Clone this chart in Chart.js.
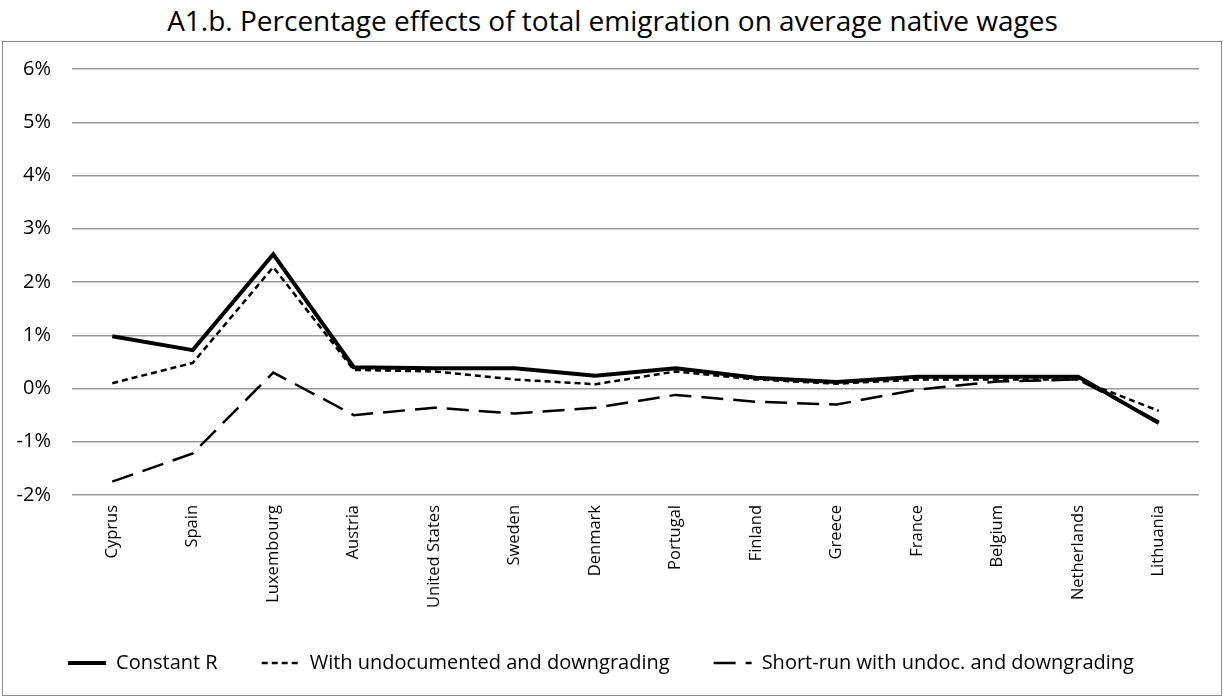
<!DOCTYPE html>
<html>
<head>
<meta charset="utf-8">
<script src="https://cdn.jsdelivr.net/npm/chart.js@4/dist/chart.umd.min.js"></script>
<style>
  html, body { margin: 0; padding: 0; background: #fff; }
  #title {
    position: absolute; left: 0; top: 1px; width: 1225px; text-align: center;
    font-family: "Open Sans", sans-serif; font-size: 28px; color: #000;
  }
  #box {
    position: absolute; left: 2px; top: 41px; width: 1218px; height: 653px;
    border: 1px solid #8a8a8a;
  }
  #wrap { position: absolute; left: 3px; top: 36px; width: 1218px; height: 659px; }
</style>
</head>
<body>
<div id="title">A1.b. Percentage effects of total emigration on average native wages</div>
<div id="box"></div>
<div id="wrap"><canvas id="chart"></canvas></div>
<script>
// Countries on the x axis
const countries = ['Cyprus', 'Spain', 'Luxembourg', 'Austria', 'United States', 'Sweden', 'Denmark',
  'Portugal', 'Finland', 'Greece', 'France', 'Belgium', 'Netherlands', 'Lithuania'];

// Effects in percent
const constantR = [0.98, 0.72, 2.52, 0.40, 0.38, 0.38, 0.24, 0.38, 0.20, 0.12, 0.22, 0.22, 0.22, -0.65];
const withUndoc = [0.10, 0.48, 2.28, 0.35, 0.32, 0.17, 0.08, 0.32, 0.17, 0.09, 0.17, 0.17, 0.17, -0.42];
const shortRun = [-1.75, -1.22, 0.30, -0.50, -0.36, -0.47, -0.36, -0.12, -0.25, -0.30, -0.02, 0.13, 0.17, -0.62];

// Y axis ticks
const yMin = -2;
const yMax = 6;
const yStep = 1;

const ctx = document.getElementById('chart');
new Chart(ctx.getContext('2d'), {
  type: 'line',
  data: {
    labels: countries,
    datasets: [
      {
        label: 'Constant R',
        data: constantR,
        borderColor: '#000',
        borderWidth: 4,
        pointRadius: 0,
        tension: 0
      },
      {
        label: 'With undocumented and downgrading',
        data: withUndoc,
        borderColor: '#000',
        borderWidth: 2.5,
        borderDash: [6, 4],
        pointRadius: 0,
        tension: 0
      },
      {
        label: 'Short-run with undoc. and downgrading',
        data: shortRun,
        borderColor: '#000',
        borderWidth: 2.5,
        borderDash: [22, 10],
        pointRadius: 0,
        tension: 0
      }
    ]
  },
  options: {
    responsive: true,
    maintainAspectRatio: false,
    animation: false,
    layout: { padding: { top: 24, right: 22, left: 0, bottom: 12 } },
    plugins: {
      title: { display: false },
      tooltip: { enabled: false },
      legend: {
        position: 'bottom',
        labels: {
          usePointStyle: true,
          pointStyle: 'line',
          pointStyleWidth: 38,
          boxWidth: 38,
          boxHeight: 10,
          padding: 44,
          color: '#000',
          font: { family: 'Open Sans', size: 20 },
          // use the line's own dash and width in the legend
          generateLabels: (chart) => {
            const items = Chart.defaults.plugins.legend.labels.generateLabels(chart);
            items.forEach((item) => {
              const ds = chart.data.datasets[item.datasetIndex];
              item.lineDash = ds.borderDash || [];
              item.lineWidth = ds.borderWidth;
              item.strokeStyle = ds.borderColor;
            });
            return items;
          }
        }
      }
    },
    scales: {
      x: {
        offset: true,
        grid: { display: false, drawTicks: false },
        border: { display: false },
        ticks: {
          minRotation: 90,
          maxRotation: 90,
          autoSkip: false,
          padding: 10,
          color: '#000',
          font: { family: 'Open Sans', size: 16.5 }
        },
        afterFit: (scale) => { scale.height = 114; }
      },
      y: {
        min: yMin,
        max: yMax,
        grid: { color: '#9a9a9a', lineWidth: 1.5, drawTicks: false },
        border: { display: false },
        ticks: {
          stepSize: yStep,
          padding: 21,
          color: '#000',
          font: { family: 'Open Sans', size: 20 },
          callback: (v) => v + '%'
        },
        afterFit: (scale) => { scale.width = 69; }
      }
    }
  }
});
</script>
</body>
</html>
